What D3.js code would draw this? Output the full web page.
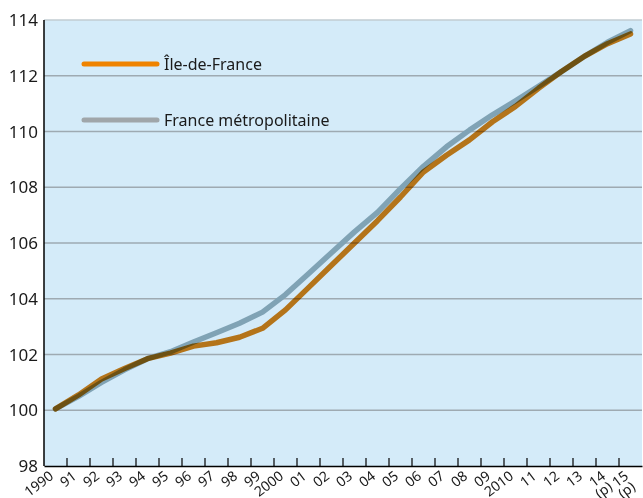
<!DOCTYPE html>
<html>
<head>
<meta charset="utf-8">
<script src="https://cdn.jsdelivr.net/npm/d3@7"></script>
<style>
  body { margin: 0; background: #fff; }
  text { font-family: "Noto Sans", sans-serif; fill: #1a1a1a; }
</style>
</head>
<body>
<div id="chart"></div>
<script>
var width = 643;
var height = 498;

// years (categories) and tick labels
var years = d3.range(1990, 2016);
var yearLabels = ["1990","91","92","93","94","95","96","97","98","99",
  "2000","01","02","03","04","05","06","07","08","09",
  "2010","11","12","13","14\n(p)","15\n(p)"];

// base 100 in 1990
var idf = [100.05, 100.55, 101.12, 101.5, 101.85, 102.05, 102.3, 102.42, 102.62, 102.94,
  103.6, 104.4, 105.2, 106.0, 106.8, 107.65, 108.55, 109.15, 109.7, 110.35,
  110.9, 111.55, 112.15, 112.7, 113.15, 113.5];
var metro = [100.05, 100.5, 101.0, 101.45, 101.85, 102.1, 102.45, 102.78, 103.12, 103.52,
  104.15, 104.9, 105.65, 106.4, 107.1, 107.95, 108.75, 109.45, 110.05, 110.6,
  111.1, 111.62, 112.15, 112.7, 113.2, 113.62];

var yTicks = [98, 100, 102, 104, 106, 108, 110, 112, 114];

var seriesNames = ["Île-de-France", "France métropolitaine"];

var plotLeft = 44, plotRight = 642, plotTop = 20, plotBottom = 466;

var xScale = d3.scaleBand().domain(years).range([plotLeft, plotRight]).padding(0);
var yScale = d3.scaleLinear().domain([98, 114]).range([plotBottom, plotTop]);

var svg = d3.select("#chart").append("svg")
  .attr("width", width)
  .attr("height", height);

// plot background
svg.append("rect")
  .attr("x", plotLeft).attr("y", plotTop)
  .attr("width", plotRight - plotLeft).attr("height", plotBottom - plotTop)
  .attr("fill", "#d4ebf9");

// horizontal grid lines
svg.append("g")
  .selectAll("line")
  .data(yTicks.filter(function(d) { return d > 98; }))
  .enter().append("line")
  .attr("x1", plotLeft).attr("x2", plotRight)
  .attr("y1", function(d) { return yScale(d); })
  .attr("y2", function(d) { return yScale(d); })
  .attr("stroke", function(d) { return d == 114 ? "#c2ccd2" : "#9eaab2"; })
  .attr("stroke-width", 1.3);

// y tick labels
svg.append("g")
  .selectAll("text")
  .data(yTicks)
  .enter().append("text")
  .attr("x", 38)
  .attr("y", function(d) { return yScale(d); })
  .attr("dy", "0.36em")
  .attr("text-anchor", "end")
  .style("font-size", "17px")
  .text(function(d) { return d; });

// lines
var line = d3.line()
  .x(function(d, i) { return xScale(years[i]) + xScale.bandwidth() / 2; })
  .y(function(d) { return yScale(d); });

svg.append("path")
  .datum(metro)
  .attr("d", line)
  .attr("fill", "none")
  .attr("stroke", "#80a3b5")
  .attr("stroke-width", 5.5)
  .attr("stroke-linecap", "round")
  .attr("stroke-linejoin", "round");

svg.append("path")
  .datum(idf)
  .attr("d", line)
  .attr("fill", "none")
  .attr("stroke", "#d97e1a")
  .attr("stroke-width", 5.5)
  .attr("stroke-linecap", "round")
  .attr("stroke-linejoin", "round")
  .style("mix-blend-mode", "multiply");

// axes
svg.append("line")
  .attr("x1", plotLeft).attr("x2", plotLeft)
  .attr("y1", plotTop).attr("y2", plotBottom)
  .attr("stroke", "#000").attr("stroke-width", 1.5);

var xAxis = d3.axisBottom(xScale).tickSize(0).tickFormat("");
svg.append("g")
  .attr("transform", "translate(0," + plotBottom + ")")
  .call(xAxis)
  .select(".domain").attr("stroke", "#000").attr("stroke-width", 1.5);

// inward ticks at category boundaries
svg.append("g")
  .selectAll("line")
  .data(years.slice(1))
  .enter().append("line")
  .attr("x1", function(d) { return xScale(d); })
  .attr("x2", function(d) { return xScale(d); })
  .attr("y1", plotBottom).attr("y2", plotBottom - 8)
  .attr("stroke", "#000").attr("stroke-width", 1.2);

// x tick labels, rotated
var xl = svg.append("g")
  .selectAll("text")
  .data(years)
  .enter().append("text")
  .attr("transform", function(d) {
    return "translate(" + (xScale(d) + xScale.bandwidth() / 2 - 1) + "," + (plotBottom + 12) + ") rotate(-37)";
  })
  .attr("text-anchor", "end")
  .style("font-size", "14px");

xl.each(function(d, i) {
  var parts = yearLabels[i].split("\n");
  var t = d3.select(this);
  parts.forEach(function(p, k) {
    t.append("tspan")
      .attr("x", k * -1)
      .attr("dy", k == 0 ? 0 : "0.9em")
      .text(p);
  });
});

// legend
var legendColors = ["#ef8300", "#a0a6aa"];
var legend = svg.append("g")
  .selectAll("g")
  .data(seriesNames)
  .enter().append("g")
  .attr("transform", function(d, i) { return "translate(0," + (64 + i * 56) + ")"; });

legend.append("line")
  .attr("x1", 84).attr("x2", 157)
  .attr("y1", 0).attr("y2", 0)
  .attr("stroke", function(d, i) { return legendColors[i]; })
  .attr("stroke-width", 5)
  .attr("stroke-linecap", "round");

legend.append("text")
  .attr("x", 164)
  .attr("y", 0)
  .attr("dy", "0.36em")
  .style("font-size", "16px")
  .text(function(d) { return d; });
</script>
</body>
</html>
